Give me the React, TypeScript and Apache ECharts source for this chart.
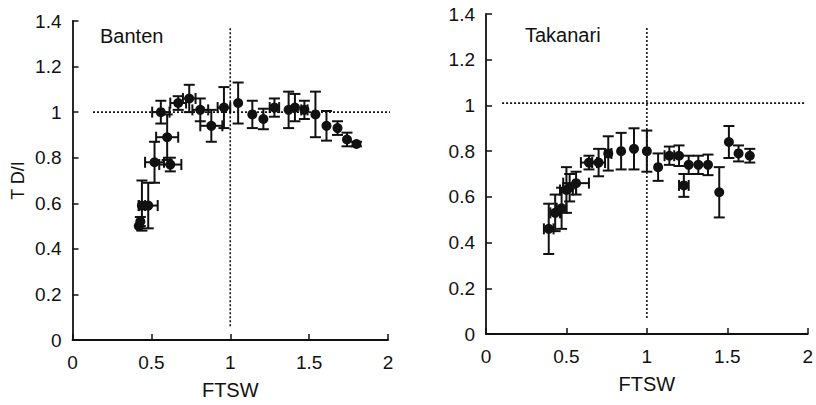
import React, { useEffect, useRef } from "react";
import * as echarts from "echarts";

// Banten panel
const bantenX = [0.42, 0.43, 0.44, 0.48, 0.52, 0.56, 0.60, 0.62, 0.67, 0.74, 0.81, 0.88, 0.96, 1.05, 1.14, 1.21, 1.28, 1.37, 1.41, 1.47, 1.54, 1.61, 1.68, 1.74, 1.80];
const bantenY = [0.50, 0.52, 0.59, 0.59, 0.78, 1.00, 0.89, 0.77, 1.04, 1.06, 1.01, 0.94, 1.02, 1.04, 0.99, 0.97, 1.02, 1.01, 1.02, 1.01, 0.99, 0.94, 0.93, 0.88, 0.86];
const bantenYErr = [0.0, 0.02, 0.11, 0.10, 0.09, 0.05, 0.10, 0.03, 0.03, 0.06, 0.05, 0.07, 0.09, 0.09, 0.06, 0.045, 0.04, 0.08, 0.06, 0.04, 0.10, 0.065, 0.03, 0.03, 0.01];
const bantenXErr = [0.0, 0.0, 0.02, 0.06, 0.06, 0.055, 0.07, 0.07, 0.05, 0.04, 0.05, 0.07, 0.04, 0.0, 0.0, 0.0, 0.03, 0.0, 0.0, 0.02, 0.0, 0.0, 0.0, 0.0, 0.0];

// Takanari panel
const takanariX = [0.39, 0.43, 0.47, 0.50, 0.52, 0.56, 0.64, 0.70, 0.76, 0.84, 0.92, 1.00, 1.07, 1.14, 1.20, 1.23, 1.26, 1.32, 1.38, 1.45, 1.51, 1.57, 1.64];
const takanariY = [0.46, 0.53, 0.55, 0.63, 0.64, 0.66, 0.75, 0.75, 0.79, 0.80, 0.81, 0.80, 0.73, 0.78, 0.78, 0.65, 0.74, 0.74, 0.74, 0.62, 0.84, 0.79, 0.78];
const takanariYErr = [0.11, 0.08, 0.09, 0.10, 0.06, 0.05, 0.03, 0.06, 0.075, 0.08, 0.09, 0.09, 0.06, 0.04, 0.045, 0.05, 0.04, 0.04, 0.045, 0.11, 0.07, 0.035, 0.03];
const takanariXErr = [0.03, 0.03, 0.03, 0.04, 0.04, 0.08, 0.05, 0.04, 0.02, 0.0, 0.0, 0.0, 0.0, 0.03, 0.0, 0.03, 0.0, 0.0, 0.0, 0.0, 0.0, 0.0, 0.0];

// Reference lines
const bantenHLine = [[0.13, 1.0], [2.03, 1.0]];
const bantenVLine = [[1.0, 0.06], [1.0, 1.37]];
const takanariHLine = [[0.1, 1.01], [1.99, 1.01]];
const takanariVLine = [[1.0, 0.07], [1.0, 1.34]];

const xTickLabels = ["0", "0.5", "1", "1.5", "2"];

const INK = "#111";
const FONT = "'Liberation Sans', Arial, sans-serif";

function zip(x: number[], y: number[], xe: number[], ye: number[]) {
  return x.map((v, i) => [v, y[i], xe[i], ye[i]]);
}

function errRender(params: any, api: any) {
  const x = api.value(0);
  const y = api.value(1);
  const xe = api.value(2);
  const ye = api.value(3);
  const cap = 5.5;
  const children: any[] = [];
  const style = { stroke: INK, lineWidth: 2 };
  if (ye > 0) {
    const top = api.coord([x, y + ye]);
    const bot = api.coord([x, y - ye]);
    children.push({ type: "line", shape: { x1: top[0], y1: top[1], x2: bot[0], y2: bot[1] }, style });
    children.push({ type: "line", shape: { x1: top[0] - cap, y1: top[1], x2: top[0] + cap, y2: top[1] }, style });
    children.push({ type: "line", shape: { x1: bot[0] - cap, y1: bot[1], x2: bot[0] + cap, y2: bot[1] }, style });
  }
  if (xe > 0) {
    const l = api.coord([x - xe, y]);
    const r = api.coord([x + xe, y]);
    children.push({ type: "line", shape: { x1: l[0], y1: l[1], x2: r[0], y2: r[1] }, style });
    children.push({ type: "line", shape: { x1: l[0], y1: l[1] - cap, x2: l[0], y2: l[1] + cap }, style });
    children.push({ type: "line", shape: { x1: r[0], y1: r[1] - cap, x2: r[0], y2: r[1] + cap }, style });
  }
  return { type: "group", children };
}

function makeX(gridIndex: number) {
  return {
    type: "value",
    gridIndex,
    min: 0,
    max: 2,
    interval: 0.5,
    name: "FTSW",
    nameLocation: "middle",
    nameGap: 40,
    nameTextStyle: { fontSize: 20, color: INK, fontFamily: FONT },
    axisLine: { show: true, onZero: false, lineStyle: { color: INK, width: 1.8 } },
    axisTick: { show: true, inside: true, length: 6, lineStyle: { color: INK, width: 1.5 } },
    axisLabel: {
      fontSize: 19,
      color: INK,
      fontFamily: FONT,
      margin: 13,
      formatter: (v: number) => xTickLabels[Math.round(v / 0.5)] ?? String(v),
    },
    splitLine: { show: false },
  };
}

function makeY(gridIndex: number, withName: boolean) {
  return {
    type: "value",
    gridIndex,
    min: 0,
    max: 1.4,
    interval: 0.2,
    name: withName ? "T D/I" : "",
    nameLocation: "middle",
    nameGap: 46,
    nameTextStyle: { fontSize: 18, color: INK, fontFamily: FONT },
    axisLine: { show: true, onZero: false, lineStyle: { color: INK, width: 1.8 } },
    axisTick: { show: true, inside: true, length: 6, lineStyle: { color: INK, width: 1.5 } },
    axisLabel: {
      fontSize: 19,
      color: INK,
      fontFamily: FONT,
      margin: 11,
      formatter: (v: number) => String(Math.round(v * 10) / 10),
    },
    splitLine: { show: false },
  };
}

function refLine(data: number[][], idx: number) {
  return {
    type: "line",
    xAxisIndex: idx,
    yAxisIndex: idx,
    data,
    symbol: "none",
    clip: false,
    silent: true,
    lineStyle: { color: INK, width: 1.6, type: [2, 2] },
    z: 1,
  };
}

export default function App() {
  const ref = useRef<HTMLDivElement>(null);
  useEffect(() => {
    if (!ref.current) return;
    const chart = echarts.init(ref.current, null, { renderer: "svg" });
    chart.setOption({
      animation: false,
      backgroundColor: "#fff",
      grid: [
        { left: 72.5, right: 428, top: 21, bottom: 64 },
        { left: 486, right: 7, top: 14, bottom: 71 },
      ],
      xAxis: [makeX(0), makeX(1)],
      yAxis: [makeY(0, true), makeY(1, false)],
      graphic: [
        { type: "text", left: 100, top: 26, style: { text: "Banten", fontSize: 20, fill: INK, fontFamily: FONT } },
        { type: "text", left: 525, top: 25, style: { text: "Takanari", fontSize: 20, fill: INK, fontFamily: FONT } },
      ],
      series: [
        refLine(bantenHLine, 0),
        refLine(bantenVLine, 0),
        refLine(takanariHLine, 1),
        refLine(takanariVLine, 1),
        {
          type: "custom",
          xAxisIndex: 0,
          yAxisIndex: 0,
          renderItem: errRender,
          data: zip(bantenX, bantenY, bantenXErr, bantenYErr),
          encode: { x: 0, y: 1 },
          z: 2,
        },
        {
          type: "custom",
          xAxisIndex: 1,
          yAxisIndex: 1,
          renderItem: errRender,
          data: zip(takanariX, takanariY, takanariXErr, takanariYErr),
          encode: { x: 0, y: 1 },
          z: 2,
        },
        {
          type: "scatter",
          xAxisIndex: 0,
          yAxisIndex: 0,
          data: bantenX.map((v, i) => [v, bantenY[i]]),
          symbolSize: 10,
          itemStyle: { color: INK, opacity: 1 },
          z: 3,
        },
        {
          type: "scatter",
          xAxisIndex: 1,
          yAxisIndex: 1,
          data: takanariX.map((v, i) => [v, takanariY[i]]),
          symbolSize: 10,
          itemStyle: { color: INK, opacity: 1 },
          z: 3,
        },
      ],
    });
    return () => chart.dispose();
  }, []);
  return (
    <div
      ref={ref}
      style={{ position: "absolute", left: 0, top: 0, width: 816, height: 405 }}
    />
  );
}
